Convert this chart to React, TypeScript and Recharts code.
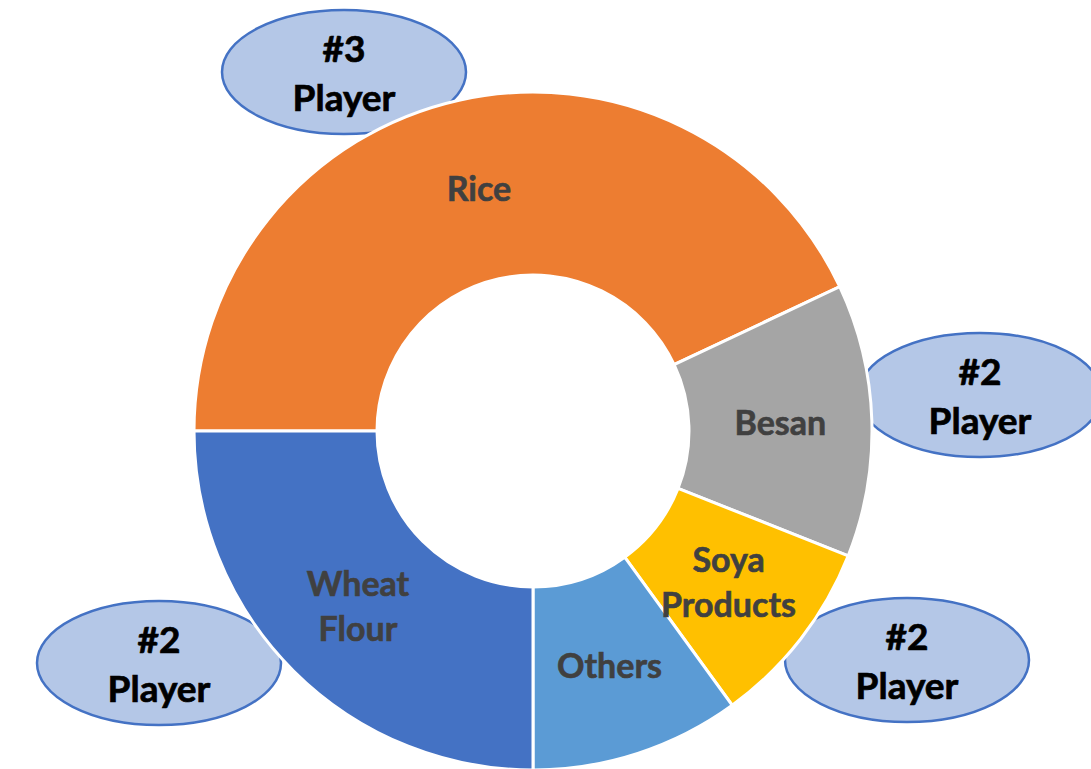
import React from 'react';
import { PieChart, Pie, Cell, Customized } from 'recharts';

const categories = ['Rice', 'Besan', 'Soya Products', 'Others', 'Wheat Flour'];
const shares = [43, 13, 9, 10, 25];
const sliceColors = ['#ED7D31', '#A5A5A5', '#FFC000', '#5B9BD5', '#4472C4'];

const calloutRanks = ['#3', '#2', '#2', '#2'];
const calloutWord = 'Player';
// where each callout bubble sits on the page
const calloutSpots = [
  { x: 344, y: 72 },
  { x: 980, y: 395 },
  { x: 907, y: 660 },
  { x: 159, y: 663 },
];

const data = categories.map((name, i) => ({ name, value: shares[i] }));

const RADIAN = Math.PI / 180;
const labelFont = 'Lato, "Open Sans", sans-serif';

const renderSliceLabel = (props: any) => {
  const { cx, cy, midAngle, innerRadius, outerRadius, name } = props;
  const r = (innerRadius + outerRadius) / 2;
  const x = cx + r * Math.cos(-midAngle * RADIAN);
  const y = cy + r * Math.sin(-midAngle * RADIAN);
  const lines = String(name).split(' ');
  const lineGap = 45;
  const firstBase = y + 12 - ((lines.length - 1) * lineGap) / 2;
  return (
    <text
      x={x}
      y={firstBase}
      textAnchor="middle"
      fill="#404040"
      fontFamily={labelFont}
      fontWeight={700}
      fontSize={34}
      stroke="#404040"
      strokeWidth={0.6}
    >
      {lines.map((ln, i) => (
        <tspan key={i} x={x} y={firstBase + i * lineGap}>
          {ln}
        </tspan>
      ))}
    </text>
  );
};

const Callouts = () => (
  <g>
    {calloutRanks.map((rank, i) => {
      const { x, y } = calloutSpots[i];
      return (
        <g key={i}>
          <ellipse cx={x} cy={y} rx={122} ry={62} fill="#B4C7E7" stroke="#4472C4" strokeWidth={2.5} />
          <text
            x={x}
            textAnchor="middle"
            fill="#000"
            fontFamily={labelFont}
            fontWeight={700}
            fontSize={37}
            stroke="#000"
            strokeWidth={0.7}
          >
            <tspan x={x} y={y - 10}>{rank}</tspan>
            <tspan x={x} y={y + 39}>{calloutWord}</tspan>
          </text>
        </g>
      );
    })}
  </g>
);

export default function App() {
  return (
    <div style={{ position: 'absolute', left: 0, top: 0, width: 1091, height: 769, background: '#fff' }}>
      <PieChart width={1091} height={769} margin={{ top: 0, right: 0, bottom: 0, left: 0 }}>
        <Pie
          data={data}
          dataKey="value"
          nameKey="name"
          cx={533}
          cy={431}
          innerRadius={156}
          outerRadius={339}
          startAngle={180}
          endAngle={-180}
          stroke="#fff"
          strokeWidth={3}
          label={renderSliceLabel}
          labelLine={false}
          isAnimationActive={false}
        >
          {data.map((d, i) => (
            <Cell key={d.name} fill={sliceColors[i]} />
          ))}
        </Pie>
        <Customized component={Callouts} />
      </PieChart>
    </div>
  );
}
